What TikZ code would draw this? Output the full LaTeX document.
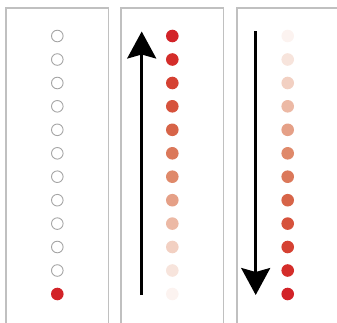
\documentclass[tikz,border=0pt]{standalone}
\usepackage{xcolor}
\usepackage{tikz}
\usetikzlibrary{arrows.meta}

\definecolor{panelgray}{RGB}{192,192,192}
\definecolor{ringgray}{RGB}{165,165,165}
\definecolor{rd0}{RGB}{210,35,40}
\definecolor{rd1}{RGB}{212,45,42}
\definecolor{rd2}{RGB}{213,65,50}
\definecolor{rd3}{RGB}{214,82,60}
\definecolor{rd4}{RGB}{215,100,72}
\definecolor{rd5}{RGB}{219,120,90}
\definecolor{rd6}{RGB}{223,137,106}
\definecolor{rd7}{RGB}{229,160,135}
\definecolor{rd8}{RGB}{236,185,165}
\definecolor{rd9}{RGB}{242,208,194}
\definecolor{rd10}{RGB}{247,228,220}
\definecolor{rd11}{RGB}{252,243,240}

\begin{document}
\begin{tikzpicture}[x=1pt,y=-1pt,
  dot/.style={circle,inner sep=0pt,minimum size=12.6pt},
  ring/.style={dot,draw=ringgray,line width=0.9pt,minimum size=11.6pt},
  panel/.style={draw=panelgray,line width=1.4pt},
  bigarrow/.style={line width=2.6pt,-{Stealth[length=27pt,width=29pt,inset=4pt]}}]

\useasboundingbox (0,0) rectangle (337,322);
\clip (0,0) rectangle (337,322);

% panels
\draw[panel] (6,330) -- (6,8) -- (108.7,8) -- (108.7,330);
\draw[panel] (121,330) -- (121,8) -- (223.7,8) -- (223.7,330);
\draw[panel] (237,330) -- (237,8) -- (350,8);

% left: only the last one is on
\node[ring] (l1) at (57.3,36) {};
\node[ring] (l2) at (57.3,59.5) {};
\node[ring] (l3) at (57.3,83) {};
\node[ring] (l4) at (57.3,106.3) {};
\node[ring] (l5) at (57.3,129.8) {};
\node[ring] (l6) at (57.3,153.3) {};
\node[ring] (l7) at (57.3,176.7) {};
\node[ring] (l8) at (57.3,200.2) {};
\node[ring] (l9) at (57.3,223.6) {};
\node[ring] (l10) at (57.3,247) {};
\node[ring] (l11) at (57.3,270.5) {};
\node[dot,fill=rd0] (l12) at (57.3,294) {};

% middle: fading upwards
\coordinate (ma) at (141.7,295);
\coordinate (mb) at (141.7,31.5);
\draw[bigarrow] (ma) -- (mb);
\node[dot,fill=rd0] (m1) at (172.3,36) {};
\node[dot,fill=rd1] (m2) at (172.3,59.5) {};
\node[dot,fill=rd2] (m3) at (172.3,83) {};
\node[dot,fill=rd3] (m4) at (172.3,106.3) {};
\node[dot,fill=rd4] (m5) at (172.3,129.8) {};
\node[dot,fill=rd5] (m6) at (172.3,153.3) {};
\node[dot,fill=rd6] (m7) at (172.3,176.7) {};
\node[dot,fill=rd7] (m8) at (172.3,200.2) {};
\node[dot,fill=rd8] (m9) at (172.3,223.6) {};
\node[dot,fill=rd9] (m10) at (172.3,247) {};
\node[dot,fill=rd10] (m11) at (172.3,270.5) {};
\node[dot,fill=rd11] (m12) at (172.3,294) {};

% right: fading downwards
\coordinate (ra) at (255.7,31);
\coordinate (rb) at (255.7,295);
\draw[bigarrow] (ra) -- (rb);
\node[dot,fill=rd11] (r1) at (287.7,36) {};
\node[dot,fill=rd10] (r2) at (287.7,59.5) {};
\node[dot,fill=rd9] (r3) at (287.7,83) {};
\node[dot,fill=rd8] (r4) at (287.7,106.3) {};
\node[dot,fill=rd7] (r5) at (287.7,129.8) {};
\node[dot,fill=rd6] (r6) at (287.7,153.3) {};
\node[dot,fill=rd5] (r7) at (287.7,176.7) {};
\node[dot,fill=rd4] (r8) at (287.7,200.2) {};
\node[dot,fill=rd3] (r9) at (287.7,223.6) {};
\node[dot,fill=rd2] (r10) at (287.7,247) {};
\node[dot,fill=rd1] (r11) at (287.7,270.5) {};
\node[dot,fill=rd0] (r12) at (287.7,294) {};

\end{tikzpicture}
\end{document}
